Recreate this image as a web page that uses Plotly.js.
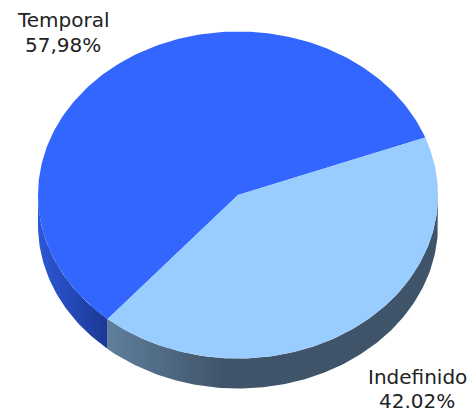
<!DOCTYPE html>
<html><head><meta charset="utf-8">
<script src="https://cdn.plot.ly/plotly-3.0.1.min.js"></script>
<style>html,body{margin:0;padding:0;background:#fff}#c{width:468px;height:409px}</style>
</head><body><div id="c"></div>
<script>
var categories = ['Temporal', 'Indefinido'];
var values = [57.98, 42.02];
var valueLabels = ['57,98%', '42.02%'];
var topColors = ['#3366ff', '#99ccff'];
var sideColorscales = [
  [[0, '#2c57d6'], [1, '#1b3893']],
  [[0, '#5f7f9c'], [0.35, '#3f5468'], [1, '#3f5468']]
];

var cx = 238, cy = 195, rx = 200, ry = 163.5, depth = 30, startDeg = 20.6;
function pt(deg, dy) {
  var a = deg * Math.PI / 180;
  return [cx + rx * Math.cos(a), cy - ry * Math.sin(a) + (dy || 0)];
}
function arc(a, b, dy) {
  var out = [], n = Math.max(2, Math.ceil(Math.abs(b - a)));
  for (var i = 0; i <= n; i++) out.push(pt(a + (b - a) * i / n, dy));
  return out;
}
var total = values.reduce(function (s, v) { return s + v; }, 0);
var traces = [], a0 = startDeg;
var spans = values.map(function (v) {
  var s = [a0, a0 + v / total * 360];
  a0 = s[1];
  return s;
});

// side walls: only the part of each slice on the lower half of the ellipse
spans.forEach(function (s, i) {
  var r = [Math.max(s[0], 180), Math.min(s[1], 360)];
  if (r[1] <= r[0]) return;
  var p = arc(r[0], r[1], 0).concat(arc(r[1], r[0], depth));
  var a = pt(r[0]), b = pt(r[1]);
  traces.push({
    type: 'scatter', mode: 'lines', hoverinfo: 'skip', showlegend: false,
    x: p.map(function (q) { return q[0]; }),
    y: p.map(function (q) { return q[1]; }),
    line: { width: 0 }, fill: 'toself',
    fillgradient: { type: 'horizontal', colorscale: sideColorscales[i], start: a[0], stop: b[0] }
  });
});

// top face slices
spans.forEach(function (s, i) {
  var p = [[cx, cy]].concat(arc(s[0], s[1], 0)).concat([[cx, cy]]);
  traces.push({
    type: 'scatter', mode: 'lines', name: categories[i], showlegend: false,
    x: p.map(function (q) { return q[0]; }),
    y: p.map(function (q) { return q[1]; }),
    line: { width: 0 }, fill: 'toself', fillcolor: topColors[i], hoverinfo: 'name'
  });
});

var labelX = [63, 417];
var nameY = [19.5, 377];
var valueY = [44.5, 400.5];
var labelFont = { family: 'DejaVu Sans', size: 20, color: '#222222' };
var annotations = [];
categories.forEach(function (c, i) {
  annotations.push({ x: labelX[i], y: nameY[i], xref: 'x', yref: 'y', showarrow: false, text: c, font: labelFont });
  annotations.push({ x: labelX[i], y: valueY[i], xref: 'x', yref: 'y', showarrow: false, text: valueLabels[i], font: labelFont });
});

Plotly.newPlot('c', traces, {
  width: 468, height: 409, margin: { l: 0, r: 0, t: 0, b: 0 },
  paper_bgcolor: '#fff', plot_bgcolor: '#fff', showlegend: false,
  xaxis: { range: [0, 468], visible: false, fixedrange: true },
  yaxis: { range: [409, 0], visible: false, fixedrange: true },
  annotations: annotations
}, { displayModeBar: false, staticPlot: true });
</script></body></html>
